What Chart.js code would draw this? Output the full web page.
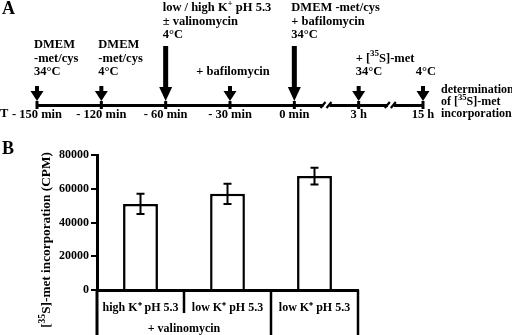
<!DOCTYPE html>
<html><head><meta charset="utf-8">
<script src="https://cdn.jsdelivr.net/npm/chart.js@4/dist/chart.umd.min.js"></script>
<style>
html,body{margin:0;padding:0;background:#fff;width:512px;height:335px;overflow:hidden}
#wa{position:absolute;left:0;top:0;width:512px;height:130px}
#wb{position:absolute;left:0;top:130px;width:512px;height:205px}
</style></head><body>
<div id="wa"><canvas id="ca"></canvas></div>
<div id="wb"><canvas id="cb"></canvas></div>
<script>
// ---------- Panel A: protocol timeline ----------
const timeLabels = ['- 150 min', '- 120 min', '- 60 min', '- 30 min', '0 min', '3 h', '15 h'];
const majorStep = [false, false, true, false, true, false, false];
const stepNotes = [
  ['DMEM', '-met/cys', '34°C'],
  ['DMEM', '-met/cys', '4°C'],
  ['low / high K^{+} pH 5.3', '± valinomycin', '4°C'],
  ['+ bafilomycin'],
  ['DMEM -met/cys', '+ bafilomycin', '34°C'],
  ['+ [^{35}S]-met', '34°C'],
  ['4°C']
];
const breaksAfter = [4, 5];
const endNote = ['determination', 'of [^{35}S]-met', 'incorporation'];
const axisLetter = 'T';

// ---------- Panel B: bar chart ----------
const categories = ['high K⁺ pH 5.3', 'low K⁺ pH 5.3', 'low K⁺ pH 5.3'];
const cpmMean = [51000, 57000, 67500];
const cpmError = [6000, 6000, 5000];
const groupLabel = { text: '+ valinomycin', from: 0, to: 1 };
const yTickStep = 20000;
const yMax = 80000;
const yTitle = '[^{35}S]-met incorporation (CPM)';

const FAM = '"Liberation Serif", "Times New Roman", serif';
function font(sz) { return 'bold ' + sz + 'px ' + FAM; }

function parseRich(s) {
  const parts = [];
  const re = /\^\{([^}]*)\}/g;
  let last = 0, m;
  while ((m = re.exec(s))) {
    if (m.index > last) parts.push({ t: s.slice(last, m.index), sup: false });
    parts.push({ t: m[1], sup: true });
    last = re.lastIndex;
  }
  if (last < s.length) parts.push({ t: s.slice(last), sup: false });
  return parts;
}
function richWidth(ctx, s, sz) {
  let w = 0;
  for (const p of parseRich(s)) {
    ctx.font = font(p.sup ? sz * 0.72 : sz);
    w += ctx.measureText(p.t).width;
  }
  return w;
}
function drawRich(ctx, s, x, y, sz, align) {
  const w = richWidth(ctx, s, sz);
  let cx = align === 'center' ? x - w / 2 : (align === 'right' ? x - w : x);
  ctx.textBaseline = 'alphabetic';
  ctx.textAlign = 'left';
  ctx.fillStyle = '#000';
  const base = y + sz * 0.33;
  for (const p of parseRich(s)) {
    const fs = p.sup ? sz * 0.72 : sz;
    ctx.font = font(fs);
    ctx.fillText(p.t, cx, p.sup ? base - sz * 0.42 : base);
    cx += ctx.measureText(p.t).width;
  }
}

const timelinePlugin = {
  id: 'timeline',
  afterDraw(chart) {
    const ctx = chart.ctx;
    const xs = chart.scales.x;
    const yb = chart.chartArea.bottom;
    ctx.save();
    ctx.strokeStyle = '#000';
    ctx.fillStyle = '#000';
    ctx.lineWidth = 3;
    timeLabels.forEach((_, i) => {
      const x = xs.getPixelForValue(i);
      ctx.beginPath(); ctx.moveTo(x, yb - 4); ctx.lineTo(x, yb + 4); ctx.stroke();
    });
    breaksAfter.forEach(i => {
      const mx = (xs.getPixelForValue(i) + xs.getPixelForValue(i + 1)) / 2;
      ctx.fillStyle = '#fff';
      ctx.fillRect(mx - 3, yb - 2, 6, 4);
      ctx.lineWidth = 2.2;
      ctx.beginPath();
      ctx.moveTo(mx - 6, yb + 3); ctx.lineTo(mx - 1, yb - 3);
      ctx.moveTo(mx + 0, yb + 3); ctx.lineTo(mx + 5, yb - 3);
      ctx.stroke();
    });
    ctx.fillStyle = '#000';
    timeLabels.forEach((_, i) => {
      const x = xs.getPixelForValue(i);
      const top = majorStep[i] ? 46 : 86;
      const tip = yb - 4;
      const headH = majorStep[i] ? 14 : 10;
      const sw = majorStep[i] ? 5 : 4;
      ctx.fillRect(x - sw / 2, top, sw, tip - headH - top + 1);
      ctx.beginPath();
      ctx.moveTo(x - 6.5, tip - headH); ctx.lineTo(x + 6.5, tip - headH); ctx.lineTo(x, tip);
      ctx.closePath(); ctx.fill();
      const lines = stepNotes[i];
      const lastY = top - (majorStep[i] ? 12 : 15);
      lines.forEach((ln, k) => {
        const ly = lastY - (lines.length - 1 - k) * 13.5;
        if (lines.length === 1) drawRich(ctx, ln, x + 3, ly, 12.5, 'center');
        else drawRich(ctx, ln, x - 3, ly, 12.5, 'left');
      });
    });
    const xe = xs.getPixelForValue(timeLabels.length - 1) + 18;
    endNote.forEach((ln, k) => drawRich(ctx, ln, xe, yb - 16 + k * 12.2, 12, 'left'));
    drawRich(ctx, axisLetter, 0, yb + 8, 12.5, 'left');
    ctx.font = 'bold 18px ' + FAM;
    ctx.textBaseline = 'middle';
    ctx.fillText('A', 2, 9);
    ctx.restore();
  }
};

new Chart(document.getElementById('ca'), {
  type: 'bar',
  data: { labels: timeLabels, datasets: [] },
  options: {
    responsive: true, maintainAspectRatio: false, animation: false,
    layout: { padding: { left: 37, right: 89, top: 0, bottom: 0 } },
    plugins: { legend: { display: false }, tooltip: { enabled: false } },
    scales: {
      x: {
        type: 'category', offset: false,
        grid: { display: false },
        border: { display: true, color: '#000', width: 3 },
        ticks: { color: '#000', font: { family: FAM, weight: 'bold', size: 12.5 }, padding: -6, maxRotation: 0, autoSkip: false },
        afterFit(s) { s.height = 25; }
      },
      y: { display: false, min: 0, max: 1 }
    }
  },
  plugins: [timelinePlugin]
});

const barExtras = {
  id: 'barExtras',
  afterDatasetsDraw(chart) {
    const ctx = chart.ctx;
    const xs = chart.scales.x, ys = chart.scales.y;
    ctx.save();
    ctx.strokeStyle = '#000';
    ctx.lineWidth = 2;
    cpmMean.forEach((m, i) => {
      const x = xs.getPixelForValue(i);
      const t = ys.getPixelForValue(m + cpmError[i]);
      const b = ys.getPixelForValue(m - cpmError[i]);
      ctx.beginPath();
      ctx.moveTo(x, t); ctx.lineTo(x, b);
      ctx.moveTo(x - 4, t); ctx.lineTo(x + 4, t);
      ctx.moveTo(x - 4, b); ctx.lineTo(x + 4, b);
      ctx.stroke();
    });
    ctx.restore();
  },
  afterDraw(chart) {
    const ctx = chart.ctx;
    const ca = chart.chartArea;
    const H = chart.height;
    const xs = chart.scales.x;
    const n = categories.length;
    const cw = (ca.right - ca.left) / n;
    ctx.save();
    ctx.strokeStyle = '#000';
    ctx.lineWidth = 3;
    ctx.beginPath(); ctx.moveTo(ca.left, ca.bottom); ctx.lineTo(ca.left, H); ctx.stroke();
    ctx.lineWidth = 2.5;
    for (let i = 1; i <= n; i++) {
      const bx = ca.left + i * cw;
      const inside = i > groupLabel.from && i <= groupLabel.to;
      ctx.beginPath(); ctx.moveTo(bx, ca.bottom); ctx.lineTo(bx, inside ? ca.bottom + 23 : H); ctx.stroke();
    }
    const gx = (xs.getPixelForValue(groupLabel.from) + xs.getPixelForValue(groupLabel.to)) / 2;
    drawRich(ctx, groupLabel.text, gx, ca.bottom + 38, 12, 'center');
    ctx.translate(46, (ca.top + H) / 2 - 5);
    ctx.rotate(-Math.PI / 2);
    drawRich(ctx, yTitle, 0, 0, 13.3, 'center');
    ctx.setTransform(1, 0, 0, 1, 0, 0);
    ctx.restore();
    ctx.save();
    ctx.fillStyle = '#000';
    ctx.font = 'bold 18px ' + FAM;
    ctx.textBaseline = 'middle';
    ctx.fillText('B', 2, 19);
    ctx.restore();
  }
};

new Chart(document.getElementById('cb'), {
  type: 'bar',
  data: {
    labels: categories,
    datasets: [{
      data: cpmMean,
      backgroundColor: '#fff',
      borderColor: '#000',
      borderWidth: 2.5,
      borderSkipped: 'bottom',
      categoryPercentage: 1,
      barPercentage: 0.4
    }]
  },
  options: {
    responsive: true, maintainAspectRatio: false, animation: false,
    layout: { padding: { left: 0, right: 154, top: 25, bottom: 0 } },
    plugins: { legend: { display: false }, tooltip: { enabled: false } },
    scales: {
      x: {
        grid: { display: false },
        border: { display: true, color: '#000', width: 3 },
        ticks: { color: '#000', font: { family: FAM, weight: 'bold', size: 12 }, padding: 3, maxRotation: 0, autoSkip: false },
        afterFit(s) { s.height = 45; }
      },
      y: {
        min: 0, max: yMax,
        grid: { display: true, drawOnChartArea: false, drawTicks: true, tickLength: 6, color: '#000', lineWidth: 2 },
        border: { display: true, color: '#000', width: 3 },
        ticks: { stepSize: yTickStep, color: '#000', font: { family: FAM, weight: 'bold', size: 12 }, padding: 2, callback: v => String(v) },
        afterFit(s) { s.width = 97; }
      }
    }
  },
  plugins: [barExtras]
});
</script>
</body></html>
